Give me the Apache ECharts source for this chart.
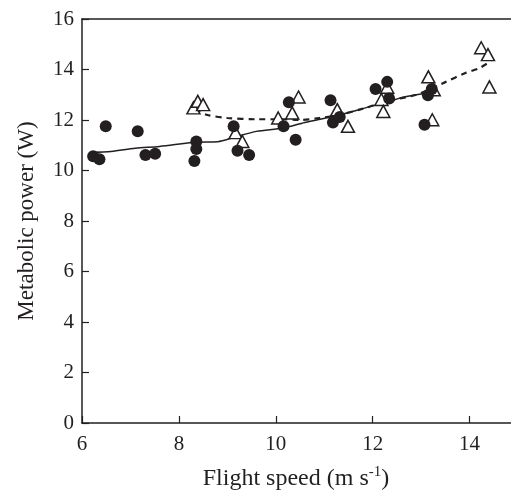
<!DOCTYPE html>
<html><head><meta charset="utf-8">
<script src="https://cdn.jsdelivr.net/npm/echarts@6/dist/echarts.min.js"></script>
<style>html,body{margin:0;padding:0;background:#fff}#c{width:511px;height:490px}</style>
</head><body><div id="c"></div>
<script>
// Filled circles: [speed, power]
var circles = [
  [6.23,10.56],[6.36,10.45],[6.49,11.75],[7.15,11.55],[7.31,10.61],[7.51,10.66],
  [8.36,11.15],[8.36,10.85],[8.32,10.38],[9.13,11.75],[9.21,10.78],[9.45,10.61],
  [10.16,11.75],[10.27,12.70],[10.41,11.22],[11.13,12.78],[11.18,11.90],[11.32,12.12],
  [12.06,13.23],[12.30,13.51],[12.34,12.85],[13.07,11.81],[13.14,12.98],[13.22,13.23]
];
// Open triangles: [speed, power]
var triangles = [
  [8.30,12.48],[8.39,12.74],[8.50,12.61],[9.17,11.50],[9.31,11.15],[10.05,12.08],
  [10.34,12.28],[10.47,12.91],[11.27,12.41],[11.49,11.75],[12.18,12.81],[12.22,12.34],
  [12.30,13.30],[13.15,13.71],[13.23,12.01],[13.26,13.20],[14.24,14.86],[14.38,14.59],[14.41,13.31]
];
// Fitted curve for circles (solid)
var solidFit = [
  [6.2,10.72],[6.6,10.75],[7.1,10.88],[7.6,10.95],[8.35,11.12],[8.8,11.14],[9.15,11.32],
  [9.6,11.55],[10.15,11.68],[10.6,11.9],[11.2,12.15],[11.7,12.4],[12.3,12.72],[12.7,12.93],[13.2,13.08]
];
// Fitted curve for triangles (dashed)
var dashedFit = [
  [8.33,12.42],[8.57,12.21],[9.0,12.08],[9.6,12.03],[10.1,12.03],[10.5,12.0],[10.9,12.08],
  [11.3,12.2],[11.8,12.45],[12.3,12.75],[12.9,13.0],[13.5,13.5],[13.9,13.85],[14.2,14.05],[14.45,14.35]
];
var xTicks = [6,8,10,12,14];
var yTicks = [0,2,4,6,8,10,12,14,16];

var font = '"Liberation Serif", "Times New Roman", serif';
var ink = '#231f20';
var chart = echarts.init(document.getElementById('c'), null, {renderer:'canvas'});
chart.setOption({
  animation: false,
  backgroundColor: '#fff',
  textStyle: {fontFamily: font},
  grid: {left: 82, top: 19, bottom: 67, right: -7, containLabel: false, outerBoundsMode: 'none'},
  xAxis: [{
    type: 'value', min: 6, max: 15, interval: 2,
    axisLine: {show: true, lineStyle: {color: ink, width: 1.5}},
    axisTick: {show: true, inside: true, length: 7, lineStyle: {color: ink, width: 1.2}},
    splitLine: {show: false},
    axisLabel: {color: ink, fontSize: 21, fontFamily: font, margin: 11,
      formatter: function(v){ return xTicks.indexOf(v) >= 0 ? String(v) : ''; }},
    name: '{a|Flight speed (m s}{s|-1}{a|)}',
    nameLocation: 'middle', nameGap: 42,
    nameTextStyle: {fontFamily: font, color: ink, padding: [0, 8, 0, 0], rich: {
      a: {fontSize: 24, fontFamily: font, color: ink, lineHeight: 27},
      s: {fontSize: 15, fontFamily: font, color: ink, verticalAlign: 'top', lineHeight: 27, padding: [0,0,10,0]}
    }}
  }, {
    type: 'value', position: 'top', min: 6, max: 15,
    axisLine: {show: true, lineStyle: {color: ink, width: 1.5}},
    axisTick: {show: false}, axisLabel: {show: false}, splitLine: {show: false}
  }],
  yAxis: {
    type: 'value', min: 0, max: 16, interval: 2,
    axisLine: {show: true, lineStyle: {color: ink, width: 1.5}},
    axisTick: {show: true, inside: true, length: 7, lineStyle: {color: ink, width: 1.2}},
    splitLine: {show: false},
    axisLabel: {color: ink, fontSize: 21, fontFamily: font, margin: 8,
      formatter: function(v){ return yTicks.indexOf(v) >= 0 ? String(v) : ''; }},
    name: 'Metabolic power (W)', nameLocation: 'middle', nameGap: 44, nameRotate: 90,
    nameTextStyle: {fontSize: 23, fontFamily: font, color: ink}
  },
  series: [
    {type: 'line', data: solidFit, showSymbol: false, symbol: 'none', smooth: 0.3,
     lineStyle: {color: ink, width: 1.5}, z: 2},
    {type: 'line', data: dashedFit, showSymbol: false, symbol: 'none', smooth: 0.3,
     lineStyle: {color: ink, width: 2.2, type: [6, 5]}, z: 2},
    {type: 'scatter', data: triangles, symbol: 'triangle', symbolSize: [13, 12],
     itemStyle: {color: '#fff', borderColor: ink, borderWidth: 1.5, opacity: 1}, z: 3},
    {type: 'scatter', data: circles, symbol: 'circle', symbolSize: 12,
     itemStyle: {color: ink, opacity: 1}, z: 4}
  ]
});
</script></body></html>
